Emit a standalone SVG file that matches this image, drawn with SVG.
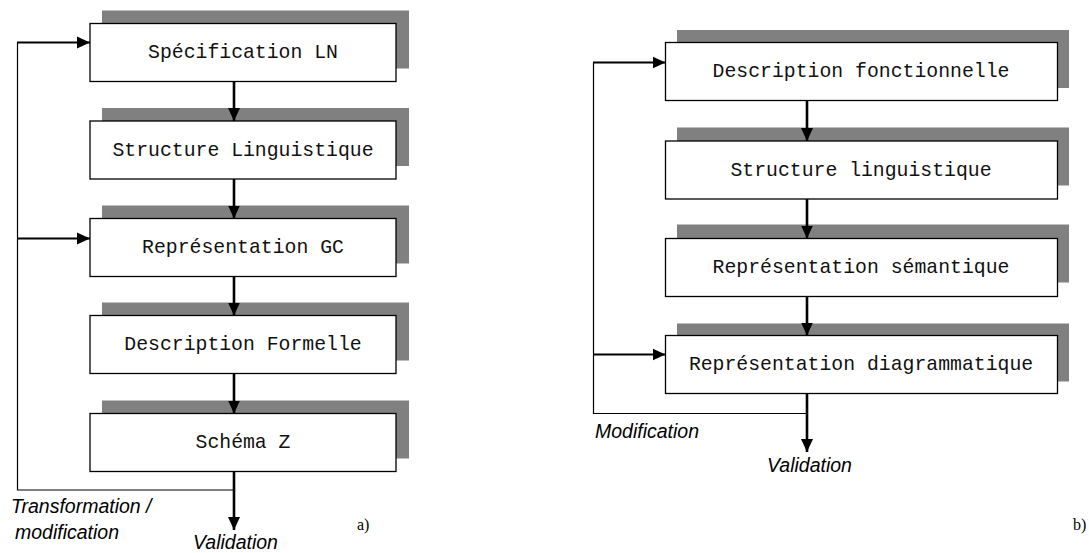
<svg xmlns="http://www.w3.org/2000/svg" width="1089" height="553" viewBox="0 0 1089 553">
<defs>
<style>
.shadow{fill:#808080;stroke:none}
.box{fill:#fff;stroke:#000;stroke-width:1.3}
.lbl{font-family:"Liberation Mono","Courier New",monospace;font-size:19.8px;fill:#111;text-anchor:middle}
.it{font-family:"Liberation Sans",Arial,sans-serif;font-style:italic;font-size:19.5px;fill:#000}
.ser{font-family:"Liberation Serif","Times New Roman",serif;font-size:16px;fill:#000}
.thick{stroke:#000;stroke-width:2.6;fill:none}
.thin{stroke:#000;stroke-width:1.2;fill:none}
.harr{stroke:#000;stroke-width:2.2;fill:none}
</style>
<marker id="ah" markerUnits="userSpaceOnUse" markerWidth="14" markerHeight="14" viewBox="0 0 14 14" refX="13" refY="7" orient="auto">
<path d="M0,1 L13,7 L0,13 Z" fill="#000"/>
</marker>
</defs>
<rect width="1089" height="553" fill="#fff"/>

<g id="a-n1"><rect class="shadow" x="102" y="10.5" width="307" height="58"/><rect class="box" x="90" y="23.5" width="306" height="58"/><text class="lbl" x="243" y="58">Spécification LN</text></g>
<g id="a-n2"><rect class="shadow" x="102" y="108" width="307" height="58"/><rect class="box" x="90" y="121" width="306" height="58"/><text class="lbl" x="243" y="155.5">Structure Linguistique</text></g>
<g id="a-n3"><rect class="shadow" x="102" y="205.5" width="307" height="58"/><rect class="box" x="90" y="218.5" width="306" height="58"/><text class="lbl" x="243" y="253">Représentation GC</text></g>
<g id="a-n4"><rect class="shadow" x="102" y="302.5" width="307" height="58"/><rect class="box" x="90" y="315.5" width="306" height="58"/><text class="lbl" x="243" y="350">Description Formelle</text></g>
<g id="a-n5"><rect class="shadow" x="102" y="400.5" width="307" height="58"/><rect class="box" x="90" y="413.5" width="306" height="58"/><text class="lbl" x="243" y="448">Schéma Z</text></g>

<g id="b-n1"><rect class="shadow" x="677" y="30" width="392" height="58"/><rect class="box" x="665.5" y="42.5" width="392" height="58"/><text class="lbl" x="861" y="77">Description fonctionnelle</text></g>
<g id="b-n2"><rect class="shadow" x="677" y="127.5" width="392" height="58"/><rect class="box" x="665.5" y="141" width="392" height="58"/><text class="lbl" x="861" y="175.5">Structure linguistique</text></g>
<g id="b-n3"><rect class="shadow" x="677" y="224.5" width="392" height="58"/><rect class="box" x="665.5" y="238.5" width="392" height="58"/><text class="lbl" x="861" y="273">Représentation sémantique</text></g>
<g id="b-n4"><rect class="shadow" x="677" y="323.5" width="392" height="58"/><rect class="box" x="665.5" y="335.5" width="392" height="58"/><text class="lbl" x="861" y="370">Représentation diagrammatique</text></g>

<g id="connectors">
<line class="thick" x1="234" y1="81.5" x2="234" y2="121" marker-end="url(#ah)"/>
<line class="thick" x1="234" y1="179" x2="234" y2="218.5" marker-end="url(#ah)"/>
<line class="thick" x1="234" y1="276.5" x2="234" y2="315.5" marker-end="url(#ah)"/>
<line class="thick" x1="234" y1="373.5" x2="234" y2="413.5" marker-end="url(#ah)"/>
<line class="thick" x1="234" y1="471.5" x2="234" y2="530" marker-end="url(#ah)"/>
<polyline class="thin" points="234,490 17.5,490 17.5,42.5"/>
<line class="harr" x1="17" y1="42.5" x2="90" y2="42.5" marker-end="url(#ah)"/>
<line class="harr" x1="17" y1="238.5" x2="90" y2="238.5" marker-end="url(#ah)"/>

<line class="thick" x1="807" y1="100.5" x2="807" y2="141" marker-end="url(#ah)"/>
<line class="thick" x1="807" y1="199" x2="807" y2="238.5" marker-end="url(#ah)"/>
<line class="thick" x1="807" y1="296.5" x2="807" y2="335.5" marker-end="url(#ah)"/>
<line class="thick" x1="807" y1="393.5" x2="807" y2="452" marker-end="url(#ah)"/>
<polyline class="thin" points="807,413.5 593.5,413.5 593.5,62.5"/>
<line class="harr" x1="593" y1="62.5" x2="665.5" y2="62.5" marker-end="url(#ah)"/>
<line class="harr" x1="593" y1="354.5" x2="665.5" y2="354.5" marker-end="url(#ah)"/>
</g>

<text class="it" x="11" y="513">Transformation /</text>
<text class="it" x="15" y="539">modification</text>
<text class="it" x="193" y="549">Validation</text>
<text class="ser" x="357" y="530">a)</text>
<text class="it" x="595" y="437.5">Modification</text>
<text class="it" x="767" y="471.5">Validation</text>
<text class="ser" x="1073" y="530">b)</text>
</svg>
